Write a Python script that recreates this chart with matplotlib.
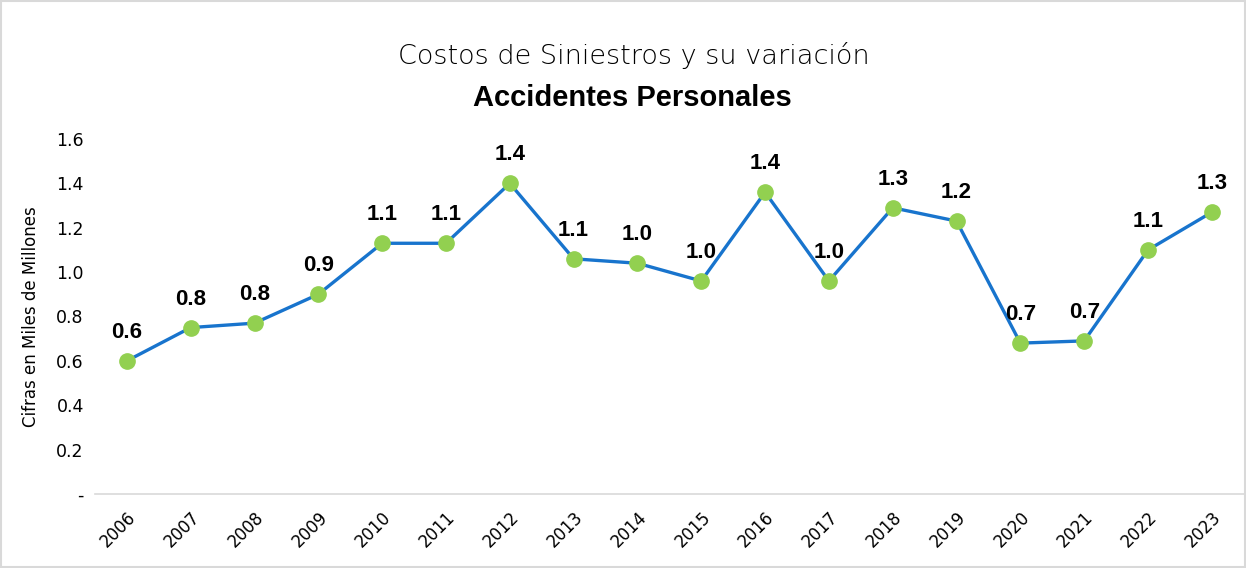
import matplotlib.pyplot as plt
from matplotlib.patches import Rectangle

# Costos de siniestros - Accidentes Personales (miles de millones)
years = ['2006', '2007', '2008', '2009', '2010', '2011', '2012', '2013', '2014',
         '2015', '2016', '2017', '2018', '2019', '2020', '2021', '2022', '2023']
costs = [0.60, 0.75, 0.77, 0.90, 1.13, 1.13, 1.40, 1.06, 1.04,
         0.96, 1.36, 0.96, 1.29, 1.23, 0.68, 0.69, 1.10, 1.27]
yticks = [0, 0.2, 0.4, 0.6, 0.8, 1.0, 1.2, 1.4, 1.6]
yticklabels = ['-', '0.2', '0.4', '0.6', '0.8', '1.0', '1.2', '1.4', '1.6']

fig = plt.figure(figsize=(12.46, 5.68), dpi=100)
ax = fig.add_axes([0.0762, 0.1303, 0.922, 0.625])

x = list(range(len(years)))
ax.plot(x, costs, color='#1874CD', lw=2.4, zorder=2)
ax.plot(x, costs, 'o', color='#92D050', ms=11, zorder=3)

for xi, v in zip(x, costs):
  ax.annotate('%.1f' % v, (xi, v), xytext=(0, 13), textcoords='offset points',
              ha='center', va='bottom', fontsize=16, fontweight='bold',
              family='Liberation Sans', color='black')

ax.set_xlim(-0.5, len(years) - 0.5)
ax.set_ylim(0, 1.6)
ax.set_xticks(x)
ax.set_xticklabels(years, rotation=45, ha='right', rotation_mode='anchor',
                   fontsize=12, family='DejaVu Sans')
ax.set_yticks(yticks)
ax.set_yticklabels(yticklabels, fontsize=12.5, family='DejaVu Sans')
ax.tick_params(length=0, pad=8)
ax.tick_params(axis='x', pad=10)
for s in ['top', 'right', 'left']:
  ax.spines[s].set_visible(False)
ax.spines['bottom'].set_color('#D9D9D9')
ax.spines['bottom'].set_linewidth(1.2)

ax.set_ylabel('Cifras en Miles de Millones', fontsize=12, labelpad=12)

fig.text(0.5085, 0.903, 'Costos de Siniestros y su variación', ha='center',
         va='center', fontsize=19.5, family='DejaVu Sans', fontweight='light')
fig.text(0.5075, 0.828, 'Accidentes Personales', ha='center', va='center',
         fontsize=21, fontweight='bold', family='Liberation Sans')

fig.patches.append(Rectangle((0.001, 0.001), 0.998, 0.997, transform=fig.transFigure,
                             fill=False, edgecolor='#D9D9D9', lw=1.5))

fig.savefig('out.png', dpi=100)
